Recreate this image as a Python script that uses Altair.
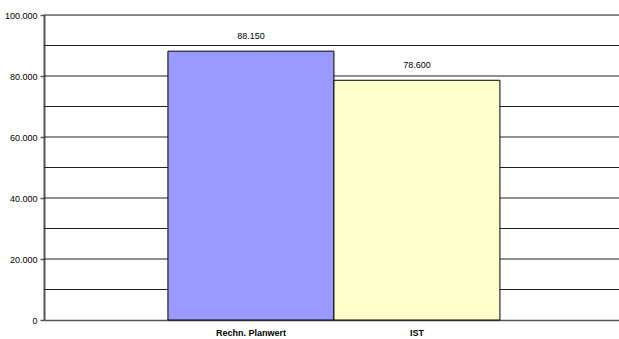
import altair as alt
import pandas as pd

categories = ["Rechn. Planwert", "IST"]
values = [88150, 78600]
colors = ["#9999FF", "#FFFFCC"]
labels = ["88.150", "78.600"]

df = pd.DataFrame({"cat": categories, "val": values, "lbl": labels, "col": colors})

xscale = alt.Scale(paddingInner=0, paddingOuter=0.732, align=0.51)
x = alt.X("cat:N", sort=categories, title=None, scale=xscale,
          axis=alt.Axis(labelAngle=0, labelFont="Liberation Sans", labelFontSize=9,
                        labelFontWeight="bold", labelColor="#000", labelPadding=8,
                        ticks=False, domainColor="#555", domainWidth=1.5, grid=False))
y = alt.Y("val:Q", title=None,
          scale=alt.Scale(domain=[0, 100000], nice=False),
          axis=alt.Axis(values=list(range(0, 100001, 20000)), labelOverlap=False,
                        labelExpr="replace(format(datum.value, ',d'), ',', '.')",
                        labelFont="Liberation Sans", labelFontSize=9, labelColor="#000",
                        tickSize=4, tickColor="#555", tickWidth=1.5, labelPadding=3,
                        domainColor="#555", domainWidth=2, grid=False))

grid = alt.Chart(pd.DataFrame({"g": list(range(10000, 100001, 10000))})).mark_rule(
    color="#222", strokeWidth=1).encode(y=alt.Y("g:Q", scale=alt.Scale(domain=[0, 100000], nice=False)))

bars = alt.Chart(df).mark_bar(stroke="#000", strokeWidth=1).encode(
    x=x, y=y, color=alt.Color("col:N", scale=None))

text = alt.Chart(df).mark_text(dy=-15, font="Liberation Sans", fontSize=9, color="#000").encode(
    x=alt.X("cat:N", sort=categories, scale=xscale), y="val:Q", text="lbl:N")

chart = alt.layer(grid, bars, text).properties(
    width=575, height=305,
    autosize=alt.AutoSizeParams(type="none"),
    padding={"left": 44, "top": 15, "right": 0, "bottom": 19},
).configure_view(stroke=None).configure(background="white")

chart.save("out.html", embed_options={"renderer": "svg", "actions": False})
